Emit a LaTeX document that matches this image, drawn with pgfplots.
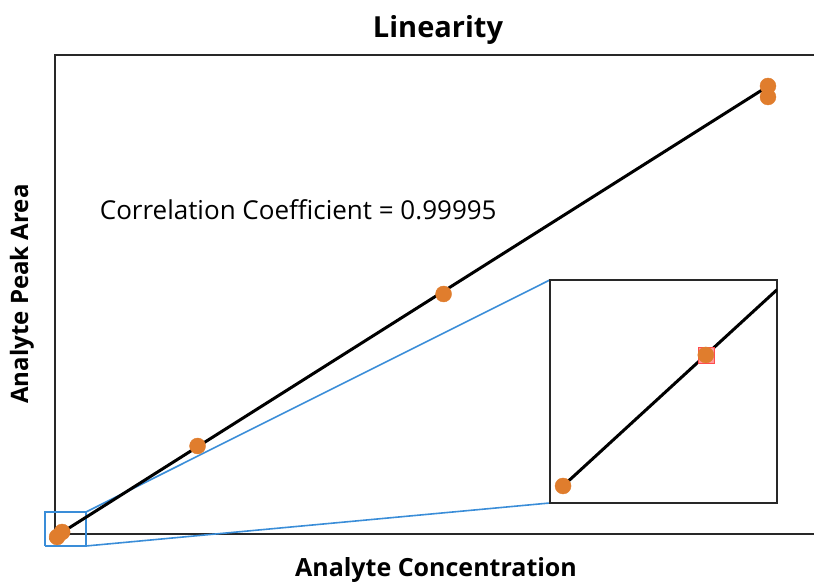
\documentclass[border=0pt]{standalone}
\usepackage{pgfplots}
\pgfplotsset{compat=1.18}
\usepackage{fontspec}
\setmainfont{Open Sans}
\definecolor{dotorange}{RGB}{224,125,45}
\definecolor{zoomblue}{RGB}{58,141,216}
\definecolor{frame}{RGB}{40,40,40}

\begin{document}
\begin{tikzpicture}[x=1pt,y=1pt]
\useasboundingbox (0,0) rectangle (814,583);

% main plot
\begin{axis}[
  at={(55pt,49pt)}, anchor=south west,
  scale only axis, width=765pt, height=479pt,
  xmin=0, xmax=107.3, ymin=0, ymax=479,
  ticks=none, clip=false,
  axis line style={frame, line width=2.6pt},
]
% zoom rectangle and its leader lines
\addplot [zoomblue, line width=1.6pt] coordinates {(-1.4,-12) (4.35,-12) (4.35,22) (-1.4,22) (-1.4,-12)};
\addplot [zoomblue, line width=1.6pt] coordinates {(4.35,22) (69.4,254)};
\addplot [zoomblue, line width=1.6pt] coordinates {(4.35,-12) (69.4,31)};
% standards
\addplot [only marks, mark=x, mark size=4pt, zoomblue, line width=1.4pt] coordinates {(100,452) (54.5,244)};
\addplot [only marks, mark=square*, mark size=5pt, draw=red!70, fill=red!40] coordinates {(1,2)};
\addplot [only marks, mark=*, mark size=8pt, dotorange] coordinates {(0.3,-3) (1,2) (20,88) (54.5,240) (100,448) (100,437)};
% regression line
\addplot [black, line width=3pt] coordinates {(-0.7,-6) (100.1,448.2)};
\node [anchor=west, font=\fontsize{26}{30}\selectfont] at (axis cs:5.8,324) {Correlation Coefficient = 0.99995};
\end{axis}

% inset (zoom of the lowest two standards)
\begin{axis}[
  at={(550pt,80pt)}, anchor=south west,
  scale only axis, width=227pt, height=223pt,
  xmin=0.236, xmax=1.349, ymin=-3.65, ymax=4.86,
  ticks=none, clip=true,
  axis background/.style={fill=white},
  axis line style={frame, line width=2pt},
]
\addplot [only marks, mark=square*, mark size=8pt, draw=red!70, fill=red!40] coordinates {(1,2)};
\addplot [only marks, mark=*, mark size=8pt, dotorange] coordinates {(0.3,-3) (1,2)};
\addplot [black, line width=3pt] coordinates {(0.3,-3) (1.349,4.49)};
\end{axis}

\node [font=\bfseries\fontsize{29}{33}\selectfont] at (438,553) {Linearity};
\node [font=\bfseries\fontsize{24}{28}\selectfont, rotate=90] at (22,289) {Analyte Peak Area};
\node [font=\bfseries\fontsize{25}{29}\selectfont] at (436,13) {Analyte Concentration};
\end{tikzpicture}
\end{document}
